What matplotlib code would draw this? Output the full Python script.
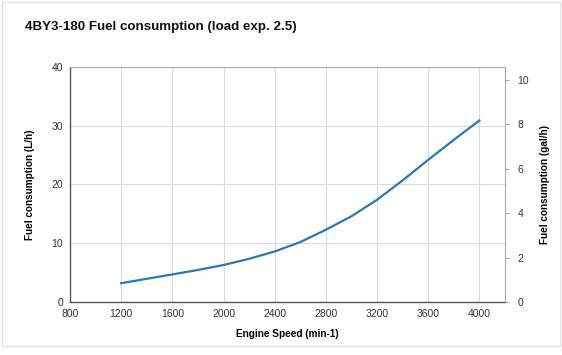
import numpy as np
import matplotlib.pyplot as plt
from matplotlib.patches import Rectangle

plt.rcParams['font.family'] = ['Liberation Sans', 'DejaVu Sans']

# engine speed (min-1) and fuel consumption (L/h)
rpm = [1200, 1400, 1600, 1800, 2000, 2200, 2400, 2600, 2800, 3000, 3200, 3400, 3600, 3800, 4000]
fuel_lh = [3.2, 3.95, 4.7, 5.45, 6.3, 7.35, 8.6, 10.2, 12.3, 14.6, 17.4, 20.7, 24.2, 27.6, 30.9]

x_ticks = [800, 1200, 1600, 2000, 2400, 2800, 3200, 3600, 4000]
y_ticks = [0, 10, 20, 30, 40]
gal_ticks = [0, 2, 4, 6, 8, 10]
L_PER_GAL = 3.785

fig = plt.figure(figsize=(5.62, 3.55), dpi=100)
ax = fig.add_axes([0.1246, 0.1493, 0.774, 0.662])

ax.plot(rpm, fuel_lh, color='#2a78b8', lw=1.6, solid_joinstyle='round')

ax.set_xlim(800, 4200)
ax.set_ylim(0, 40)
ax.set_xticks(x_ticks)
ax.set_yticks(y_ticks)
ax.grid(True, color='#dcdcdc', lw=0.8)
ax.set_axisbelow(True)
ax.tick_params(labelsize=7.5, colors='#333333', length=0, pad=5)
for s in ['left', 'bottom']:
    ax.spines[s].set_color('#555555')
    ax.spines[s].set_linewidth(1.0)
for s in ['top', 'right']:
    ax.spines[s].set_color('#aaaaaa')
    ax.spines[s].set_linewidth(0.8)

ax.set_xlabel('Engine Speed (min-1)', fontsize=7.2, fontweight='bold', labelpad=7)
ax.set_ylabel('Fuel consumption (L/h)', fontsize=7.2, fontweight='bold', labelpad=12)

ax2 = ax.twinx()
ax2.set_ylim(0, 40 / L_PER_GAL)
ax2.set_yticks(gal_ticks)
ax2.tick_params(labelsize=7.5, colors='#aaaaaa', labelcolor='#333333', length=3, pad=6)
for s in ax2.spines.values():
    s.set_visible(False)
ax2.set_ylabel('Fuel consumption (gal/h)', fontsize=7.2, fontweight='bold', labelpad=8)

fig.text(0.044, 0.925, '4BY3-180 Fuel consumption (load exp. 2.5)',
         fontsize=9.6, fontweight='bold', color='#111111', va='center')

# light panel frame around the picture
fig.patches.append(Rectangle((0.004, 0.025), 0.992, 0.97, transform=fig.transFigure,
                             fill=False, edgecolor='#e2e2e2', lw=1.0))

fig.savefig('out.png', dpi=100)
